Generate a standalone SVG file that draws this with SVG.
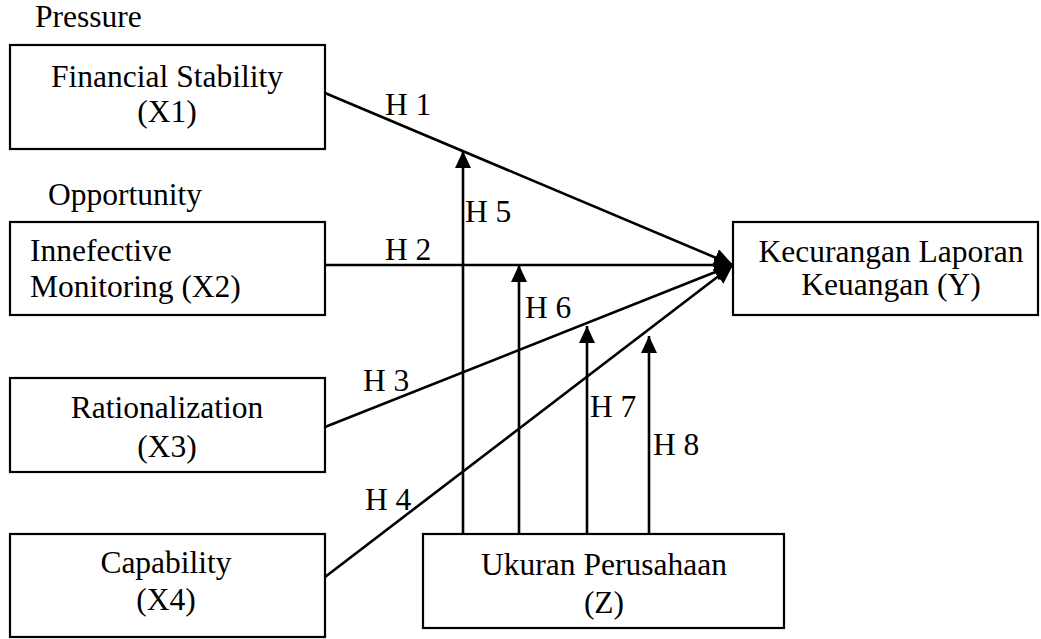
<svg xmlns="http://www.w3.org/2000/svg" width="1041" height="639" viewBox="0 0 1041 639">
<style>
.box{fill:#fff;stroke:#000;stroke-width:2.2}
.t{font-family:"Liberation Serif","Times New Roman",serif;font-size:31.5px;fill:#000}
.m{text-anchor:middle}
.ln{stroke:#000;stroke-width:2.6;fill:none}
</style>
<defs>
<marker id="ah" markerUnits="userSpaceOnUse" markerWidth="20" markerHeight="18" viewBox="0 0 20 18" refX="19" refY="9" orient="auto">
<path d="M0,0 L19,9 L0,18 Z" fill="#000"/>
</marker>
<marker id="av" markerUnits="userSpaceOnUse" markerWidth="18" markerHeight="16" viewBox="0 0 18 16" refX="17" refY="8" orient="auto">
<path d="M0,0 L17,8 L0,16 Z" fill="#000"/>
</marker>
</defs>
<rect width="1041" height="639" fill="#fff"/>
<text class="t" x="35" y="27">Pressure</text>
<text class="t" x="48" y="205">Opportunity</text>
<g id="connectors">
<line class="ln" x1="325" y1="93" x2="733" y2="265" marker-end="url(#ah)"/>
<line class="ln" x1="325" y1="265" x2="733" y2="265" marker-end="url(#ah)"/>
<line class="ln" x1="325" y1="427" x2="733" y2="265" marker-end="url(#ah)"/>
<line class="ln" x1="325" y1="577" x2="733" y2="265" marker-end="url(#ah)"/>
<line class="ln" x1="463" y1="534" x2="463" y2="151" marker-end="url(#av)"/>
<line class="ln" x1="519" y1="534" x2="519" y2="265" marker-end="url(#av)"/>
<line class="ln" x1="587" y1="534" x2="587" y2="326" marker-end="url(#av)"/>
<line class="ln" x1="649" y1="534" x2="649" y2="336" marker-end="url(#av)"/>
<text class="t" x="385" y="115">H 1</text>
<text class="t" x="385" y="260">H 2</text>
<text class="t" x="363" y="391">H 3</text>
<text class="t" x="365" y="510">H 4</text>
<text class="t" x="465" y="222">H 5</text>
<text class="t" x="525" y="318">H 6</text>
<text class="t" x="590" y="417">H 7</text>
<text class="t" x="653" y="455">H 8</text>
</g>
<g id="x1">
<rect class="box" x="10" y="45" width="315" height="104"/>
<text class="t m" x="167" y="87">Financial Stability</text>
<text class="t m" x="167" y="122">(X1)</text>
</g>
<g id="x2">
<rect class="box" x="10" y="222" width="315" height="93"/>
<text class="t" x="30" y="261">Innefective</text>
<text class="t" x="30" y="297">Monitoring (X2)</text>
</g>
<g id="x3">
<rect class="box" x="10" y="378" width="315" height="94"/>
<text class="t m" x="167" y="418">Rationalization</text>
<text class="t m" x="167" y="457">(X3)</text>
</g>
<g id="x4">
<rect class="box" x="10" y="534" width="315" height="103"/>
<text class="t m" x="166" y="573">Capability</text>
<text class="t m" x="166" y="610">(X4)</text>
</g>
<g id="y">
<rect class="box" x="733" y="222" width="305" height="93"/>
<text class="t m" x="891" y="262">Kecurangan Laporan</text>
<text class="t m" x="891" y="295">Keuangan (Y)</text>
</g>
<g id="z">
<rect class="box" x="423" y="534" width="361" height="94"/>
<text class="t m" x="604" y="575">Ukuran Perusahaan</text>
<text class="t m" x="604" y="613">(Z)</text>
</g>
</svg>
